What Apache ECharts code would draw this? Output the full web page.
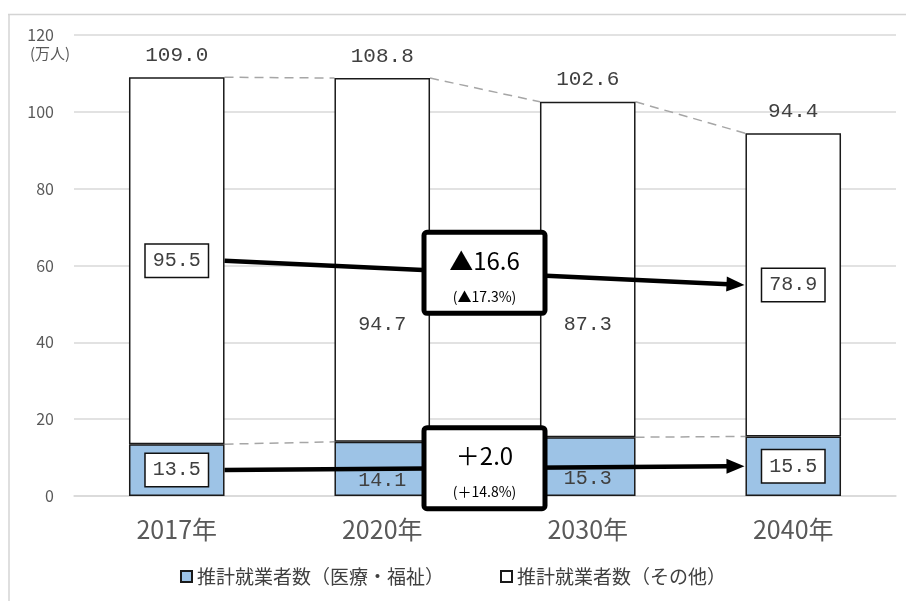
<!DOCTYPE html>
<html><head><meta charset="utf-8">
<script src="https://cdn.jsdelivr.net/npm/echarts@6/dist/echarts.min.js"></script>
<style>html,body{margin:0;padding:0;background:#fff;}#c{width:906px;height:601px;}</style>
</head><body><div id="c"></div>
<script>
const categories = ['2017年', '2020年', '2030年', '2040年'];
const welfare = [13.5, 14.1, 15.3, 15.5];
const other = [95.5, 94.7, 87.3, 78.9];
const totals = [109.0, 108.8, 102.6, 94.4];
const changeAbs = [-16.6, 2.0];   // [その他, 医療・福祉]
const changePct = [-17.3, 14.8];
const seriesNames = ['推計就業者数（医療・福祉）', '推計就業者数（その他）'];

const NUMFONT = '"Liberation Mono", "DejaVu Sans Mono", monospace';
const JPFONT = '"Noto Sans CJK JP", "Noto Sans", sans-serif';
const BARW = 0.465;
const boxed = [true, false, false, true];
const shiftOther = [0, 65, 55, 0];
const shiftWelfare = [0, 12, 12, 0];

function labelFor(i, shift) {
  const base = {
    show: true, position: 'inside', color: '#404040', fontSize: 20,
    fontFamily: NUMFONT, offset: [0, shift[i]],
    formatter: p => p.value.toFixed(1)
  };
  if (boxed[i]) {
    Object.assign(base, { backgroundColor: '#fff', borderColor: '#111', borderWidth: 1.5, padding: [7, 7, 5, 7] });
  }
  return base;
}

const welfareData = welfare.map((v, i) => ({ value: v, label: labelFor(i, shiftWelfare) }));
const otherData = other.map((v, i) => ({ value: v, label: labelFor(i, shiftOther) }));

function fmtSigned(v, d) {
  return (v < 0 ? '▲' : '＋') + Math.abs(v).toFixed(d);
}

const chart = echarts.init(document.getElementById('c'));

const dashPairs = [];
for (let i = 0; i < categories.length - 1; i++) {
  dashPairs.push([i, totals[i], totals[i + 1]]);
  dashPairs.push([i, welfare[i], welfare[i + 1]]);
}

const arrows = [
  { a: welfare[0] + other[0] / 2, b: welfare[3] + other[3] / 2, k: 0 },
  { a: welfare[0] / 2, b: welfare[3] / 2, k: 1 }
];

chart.setOption({
  animation: false,
  backgroundColor: '#fff',
  grid: { left: 74, right: 10, top: 35, bottom: 105 },
  graphic: [
    { type: 'line', shape: { x1: 8, y1: 14.5, x2: 906, y2: 14.5 }, style: { stroke: '#d4d4d4', lineWidth: 1.5 }, silent: true },
    { type: 'line', shape: { x1: 9, y1: 14, x2: 9, y2: 601 }, style: { stroke: '#d4d4d4', lineWidth: 1.5 }, silent: true },
    { type: 'text', left: 30, top: 46, style: { text: '(万人)', fill: '#595959', font: '15px ' + JPFONT } }
  ],
  legend: {
    bottom: 10, left: 'center', itemGap: 56, itemWidth: 11, itemHeight: 11, icon: 'rect',
    textStyle: { color: '#404040', fontSize: 19, fontFamily: JPFONT },
    data: seriesNames
  },
  xAxis: {
    type: 'category', data: categories,
    axisLine: { lineStyle: { color: '#d9d9d9', width: 1.5 } },
    axisTick: { show: false },
    axisLabel: { color: '#595959', fontSize: 25, fontFamily: JPFONT, margin: 21 }
  },
  yAxis: {
    type: 'value', min: 0, max: 120, interval: 20,
    axisLine: { show: false }, axisTick: { show: false },
    axisLabel: { color: '#595959', fontSize: 16, fontFamily: JPFONT, margin: 20 },
    splitLine: { lineStyle: { color: '#d9d9d9', width: 1.5 } }
  },
  series: [
    {
      name: seriesNames[0], type: 'bar', stack: 't', barWidth: (BARW * 100) + '%',
      itemStyle: { color: '#9dc3e6', borderColor: '#1a1a1a', borderWidth: 1.5 },
      data: welfareData, z: 2
    },
    {
      name: seriesNames[1], type: 'bar', stack: 't',
      itemStyle: { color: '#ffffff', borderColor: '#1a1a1a', borderWidth: 1.5 },
      data: otherData, z: 2
    },
    {
      type: 'custom', z: 1, silent: true,
      data: dashPairs,
      encode: { x: 0, y: 1 },
      renderItem: (params, api) => {
        const d = dashPairs[params.dataIndex];
        const half = api.size([1, 0])[0] * BARW / 2;
        const p0 = api.coord([d[0], d[1]]);
        const p1 = api.coord([d[0] + 1, d[2]]);
        return {
          type: 'line',
          shape: { x1: p0[0] + half, y1: p0[1], x2: p1[0] - half, y2: p1[1] },
          style: { stroke: '#a6a6a6', lineWidth: 1.5, lineDash: [9, 6] }
        };
      }
    },
    {
      type: 'custom', z: 5, silent: true,
      data: totals.map((v, i) => [i, v]),
      encode: { x: 0, y: 1 },
      renderItem: (params, api) => {
        const i = params.dataIndex;
        const p = api.coord([i, totals[i]]);
        return {
          type: 'text',
          style: { text: totals[i].toFixed(1), x: p[0], y: p[1] - 22, align: 'center', verticalAlign: 'middle',
            fill: '#404040', font: '21px ' + NUMFONT }
        };
      }
    },
    {
      type: 'custom', z: 6, silent: true,
      data: arrows.map(a => [0, a.a]),
      encode: { x: 0, y: 1 },
      renderItem: (params, api) => {
        const ar = arrows[params.dataIndex];
        const half = api.size([1, 0])[0] * BARW / 2;
        const p0 = api.coord([0, ar.a]);
        const p1 = api.coord([categories.length - 1, ar.b]);
        const x0 = p0[0] + half, y0 = p0[1];
        const x1 = p1[0] - half - 1, y1 = p1[1];
        const dx = x1 - x0, dy = y1 - y0, L = Math.hypot(dx, dy);
        const ux = dx / L, uy = dy / L, nx = -uy, ny = ux;
        const hl = 18, hw = 7.5;
        const bx = x1 - ux * hl, by = y1 - uy * hl;
        const cx = (x0 + x1) / 2, cy = (y0 + y1) / 2;
        const bw = 121, bh = 81;
        return {
          type: 'group',
          children: [
            { type: 'line', shape: { x1: x0, y1: y0, x2: bx + ux * 2, y2: by + uy * 2 }, style: { stroke: '#000', lineWidth: 4.5 } },
            { type: 'polygon', shape: { points: [[x1, y1], [bx + nx * hw, by + ny * hw], [bx - nx * hw, by - ny * hw]] }, style: { fill: '#000' } },
            { type: 'rect', shape: { x: cx - bw / 2, y: cy - bh / 2, width: bw, height: bh, r: 3 }, style: { fill: '#fff', stroke: '#000', lineWidth: 5 } },
            { type: 'text', style: { text: fmtSigned(changeAbs[ar.k], 1), x: cx, y: cy - 12, align: 'center', verticalAlign: 'middle', fill: '#000', font: '24px ' + JPFONT } },
            { type: 'text', style: { text: '(' + fmtSigned(changePct[ar.k], 1) + '%)', x: cx, y: cy + 24, align: 'center', verticalAlign: 'middle', fill: '#000', font: '14px ' + JPFONT } }
          ]
        };
      }
    }
  ]
});
</script></body></html>
